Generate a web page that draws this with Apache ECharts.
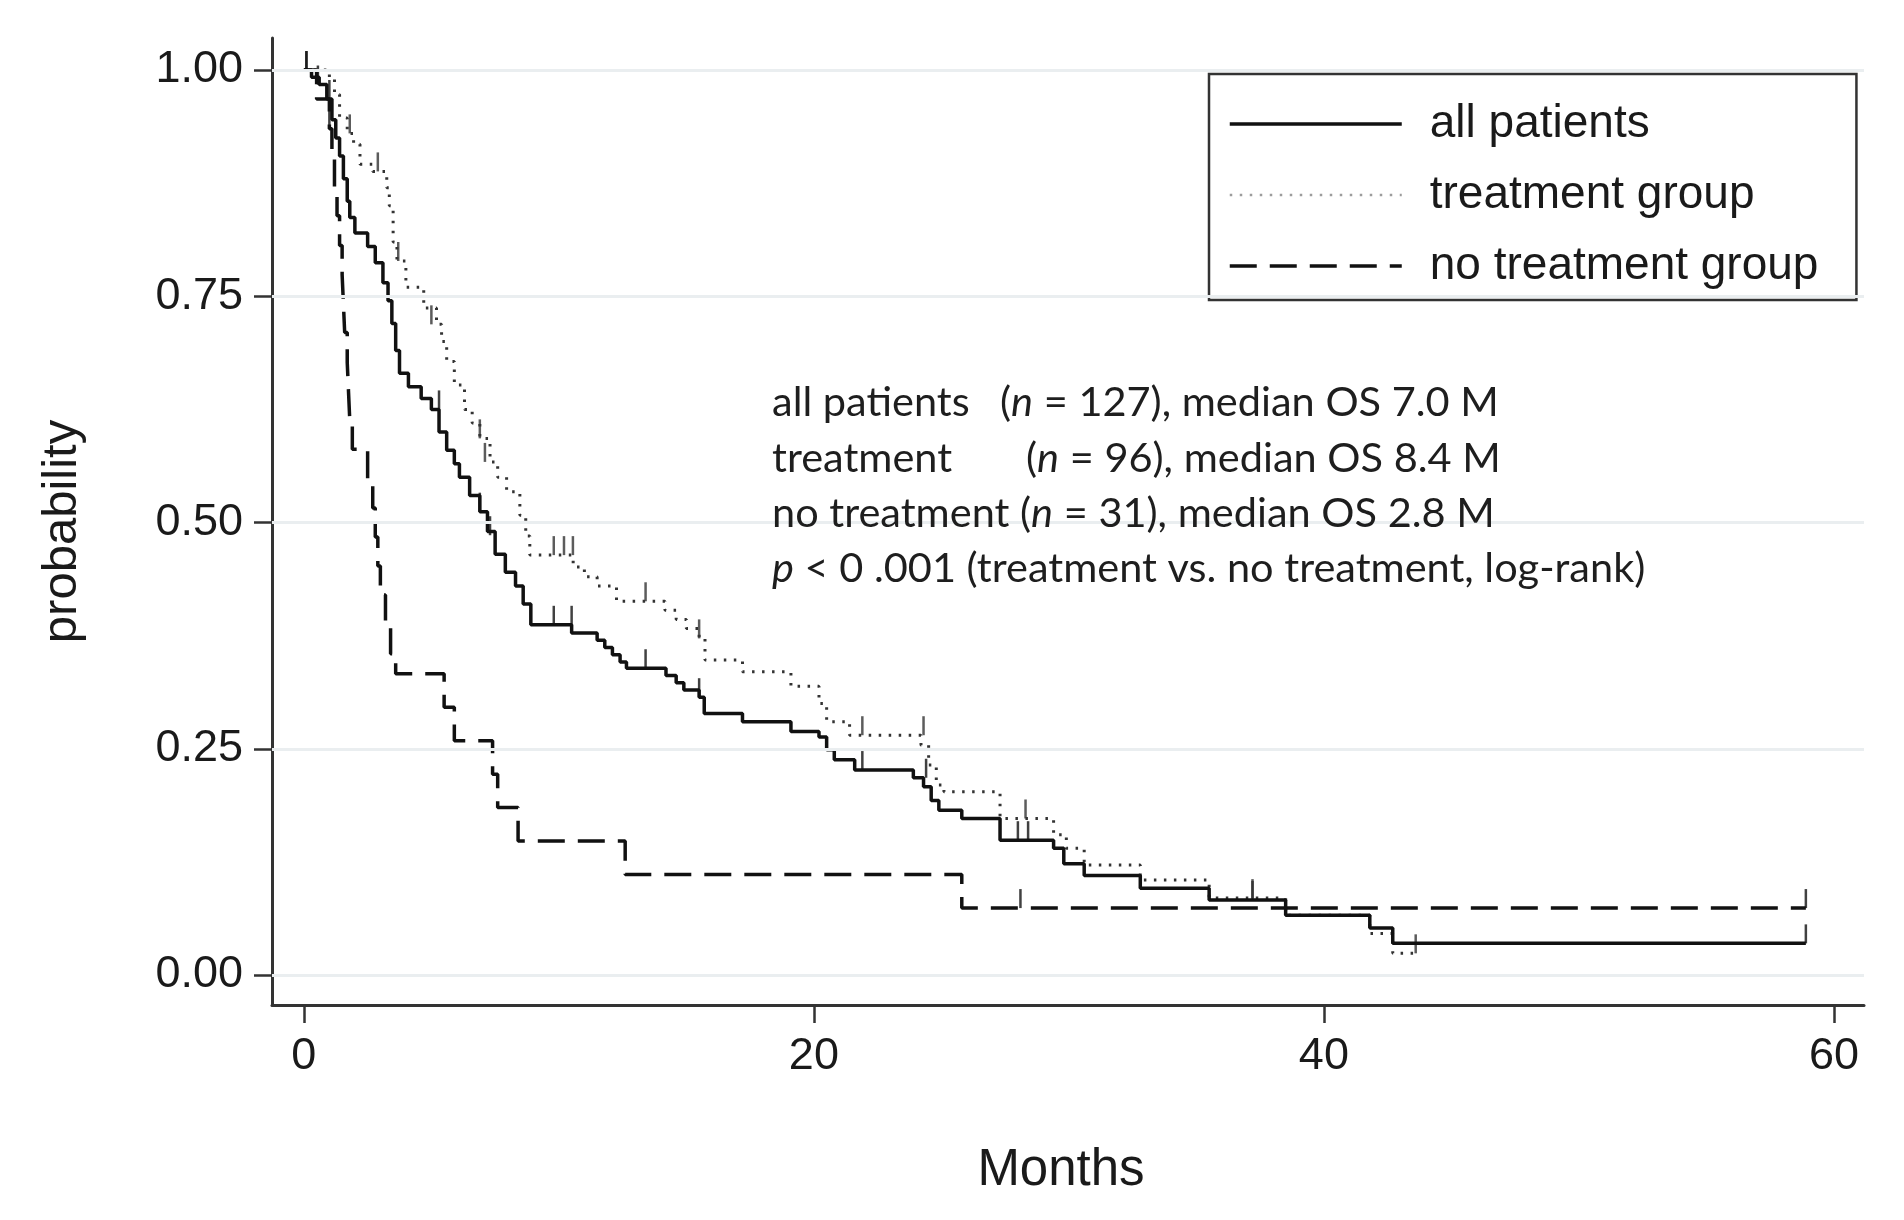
<!DOCTYPE html>
<html>
<head>
<meta charset="utf-8">
<script src="https://cdn.jsdelivr.net/npm/echarts@6/dist/echarts.min.js"></script>
<style>
html,body{margin:0;padding:0;background:#fff;}
#c{width:1904px;height:1220px;}
</style>
</head>
<body>
<div id="c"></div>
<script>
// ---------- data ----------
const xTicks = [0, 20, 40, 60];
const yTicks = [0, 0.25, 0.5, 0.75, 1];

const allTimes = [0,0.3,0.6,0.9,1.1,1.25,1.4,1.55,1.7,1.8,2.0,2.5,2.8,3.1,3.3,3.45,3.6,3.75,4.1,4.6,5.0,5.3,5.6,5.9,6.1,6.5,6.9,7.2,7.5,7.9,8.3,8.6,8.9,10.5,11.5,11.8,12.1,12.4,12.65,14.2,14.6,14.9,15.5,15.7,17.2,19.1,20.2,20.5,20.8,21.6,23.9,24.3,24.6,24.9,25.8,27.3,29.4,29.8,30.6,32.8,35.5,38.5,41.8,42.7,58.9];
const allSurv  = [1,0.992,0.984,0.968,0.945,0.925,0.905,0.88,0.855,0.837,0.82,0.805,0.787,0.765,0.745,0.72,0.69,0.665,0.65,0.637,0.625,0.6,0.58,0.565,0.55,0.53,0.512,0.49,0.465,0.445,0.43,0.41,0.387,0.378,0.37,0.362,0.354,0.346,0.339,0.331,0.323,0.315,0.307,0.289,0.28,0.269,0.263,0.249,0.238,0.2265,0.218,0.208,0.193,0.182,0.173,0.149,0.14,0.123,0.11,0.096,0.083,0.066,0.052,0.035,0.035];

const txTimes = [0,1.0,1.2,1.4,1.7,1.95,2.2,2.7,3.25,3.35,3.5,3.65,4.0,4.7,5.2,5.4,5.6,5.9,6.3,6.6,6.9,7.3,7.6,7.95,8.47,8.7,8.86,10.56,11.0,11.5,12.26,14.16,14.6,15.0,15.5,15.73,17.2,19.1,20.2,20.5,21.4,24.2,24.5,24.8,25.1,27.3,29.4,29.9,30.6,32.8,35.5,38.5,41.8,42.7,43.6];
const txSurv  = [1,0.99,0.973,0.947,0.93,0.918,0.896,0.888,0.87,0.85,0.81,0.789,0.76,0.737,0.719,0.7,0.678,0.652,0.625,0.61,0.593,0.567,0.55,0.534,0.508,0.485,0.464,0.451,0.44,0.43,0.413,0.403,0.393,0.383,0.372,0.348,0.335,0.319,0.3,0.28,0.265,0.254,0.232,0.21,0.2025,0.173,0.155,0.14,0.1215,0.105,0.085,0.066,0.046,0.024,0.024];

const noTxTimes = [0,0.5,1.0,1.1,1.2,1.3,1.4,1.5,1.55,1.6,1.7,1.75,1.8,1.9,2.5,2.7,2.8,2.9,3.0,3.2,3.4,3.6,5.5,5.9,7.4,7.6,8.4,12.6,25.8,58.9];
const noTxSurv  = [1,0.968,0.935,0.903,0.871,0.839,0.806,0.774,0.742,0.71,0.677,0.645,0.613,0.581,0.548,0.516,0.484,0.452,0.42,0.387,0.355,0.333,0.296,0.259,0.222,0.185,0.148,0.111,0.074,0.074];

// censoring marks
const allCensT = [0.1,0.55,1.0,5.3,6.9,7.3,9.8,10.5,13.4,15.5,21.9,24.4,28.0,28.4,37.2,58.9];
const allCensS = [1,0.984,0.968,0.625,0.512,0.486,0.387,0.387,0.339,0.307,0.2265,0.218,0.149,0.149,0.083,0.035];
const txCensT  = [1.8,2.9,3.7,5.0,6.9,7.1,9.8,10.2,10.55,13.4,15.5,21.9,24.3,28.3,37.2,43.6];
const txCensS  = [0.93,0.888,0.789,0.719,0.593,0.567,0.464,0.464,0.464,0.413,0.372,0.265,0.265,0.173,0.085,0.024];
const noTxCensT = [0.1,1.0,28.1,58.9];
const noTxCensS = [1,0.935,0.074,0.074];

const seriesNames = ['all patients', 'treatment group', 'no treatment group'];
const noteLines = [
  ['all patients', '({i|n} = 127), median OS 7.0 M'],
  ['treatment', '({i|n} = 96), median OS 8.4 M'],
  ['no treatment ({i|n} = 31), median OS 2.8 M'],
  ['{i|p} < 0 .001 (treatment vs. no treatment, log-rank)']
];

// ---------- chart ----------
const zip = (a, b) => a.map((v, i) => [v, b[i]]);
const tickFont = 'Liberation Sans, Arial, sans-serif';
const noteFont = 'Lato, sans-serif';
const noteSize = 41.5;

function censorSeries(t, s, color) {
  return {
    type: 'scatter', data: zip(t, s), symbol: 'rect', symbolSize: [2.5, 19],
    symbolOffset: [0, '-50%'], itemStyle: { color: color }, silent: true, z: 3,
    emphasis: { disabled: true }
  };
}

const chart = echarts.init(document.getElementById('c'));
const noteRich = { i: { fontStyle: 'italic', fontFamily: noteFont, fontSize: noteSize, fill: '#1e1e1e' } };
const noteY = [403, 459, 514, 569];
const graphics = [];
noteLines.forEach((ln, k) => {
  const base = { font: noteSize + 'px ' + noteFont, fill: '#1e1e1e', rich: noteRich, verticalAlign: 'middle' };
  graphics.push({ type: 'text', x: 772, y: noteY[k], z: 100, style: Object.assign({ text: ln[0] }, base) });
  if (ln.length > 1) {
    graphics.push({ type: 'text', x: k === 0 ? 1000 : 1026, y: noteY[k], z: 100, style: Object.assign({ text: ln[1] }, base) });
  }
});

chart.setOption({
  animation: false,
  backgroundColor: '#fff',
  grid: { left: 272, right: 40, top: 38, bottom: 215, containLabel: false },
  legend: {
    data: [
      { name: seriesNames[0] },
      { name: seriesNames[1], lineStyle: { color: '#9c9c9c', width: 2.5 } },
      { name: seriesNames[2] }
    ],
    orient: 'vertical', left: 1209, top: 74,
    itemWidth: 172, itemHeight: 16, itemGap: 25,
    padding: [27, 38, 11, 19],
    borderColor: '#333', borderWidth: 2.5, backgroundColor: '#fff',
    itemStyle: { opacity: 0 },
    lineStyle: { width: 3.5 },
    textStyle: { fontFamily: tickFont, fontSize: 46, color: '#1a1a1a', padding: [0, 0, 0, 23], lineHeight: 46 },
    selectedMode: false
  },
  xAxis: {
    type: 'value', min: -1.25, max: 61.18,
    name: 'Months', nameLocation: 'middle', nameGap: 140,
    nameTextStyle: { fontFamily: tickFont, fontSize: 51, color: '#1a1a1a', padding: [0, 14, 0, 0] },
    axisLine: { onZero: false, lineStyle: { color: '#333', width: 3 } },
    axisTick: { show: true, length: 18, lineStyle: { color: '#333', width: 2.5 }, customValues: xTicks },
    axisLabel: { customValues: xTicks, fontFamily: tickFont, fontSize: 45, color: '#1a1a1a', margin: 29 },
    splitLine: { show: false }
  },
  yAxis: {
    type: 'value', min: -0.0331, max: 1.0354,
    name: 'probability', nameLocation: 'middle', nameGap: 185,
    nameTextStyle: { fontFamily: tickFont, fontSize: 49, color: '#1a1a1a', padding: [0, 20, 0, 0] },
    axisLine: { onZero: false, lineStyle: { color: '#333', width: 3 } },
    axisTick: { show: true, length: 18, lineStyle: { color: '#333', width: 2.5 }, customValues: yTicks },
    axisLabel: { customValues: yTicks, formatter: v => v.toFixed(2), fontFamily: tickFont, fontSize: 45, color: '#1a1a1a', margin: 29 },
    splitLine: { show: false }
  },
  graphic: graphics,
  series: [
    {
      type: 'line', data: [[0, 0]], symbol: 'none', lineStyle: { opacity: 0 }, silent: true, z: 1,
      markLine: {
        silent: true, symbol: 'none', label: { show: false },
        lineStyle: { color: '#eaeef0', width: 3, type: 'solid' },
        data: yTicks.map(v => ({ yAxis: v }))
      }
    },
    {
      name: seriesNames[0], type: 'line', step: 'end', data: zip(allTimes, allSurv),
      symbol: 'none', lineStyle: { color: '#111', width: 3.5, type: 'solid' }, itemStyle: { color: '#111' }, z: 4
    },
    {
      name: seriesNames[1], type: 'line', step: 'end', data: zip(txTimes, txSurv),
      symbol: 'none', lineStyle: { color: '#333', width: 3, type: [2.5, 7.5] }, itemStyle: { color: '#9a9a9a' }, z: 3
    },
    {
      name: seriesNames[2], type: 'line', step: 'end', data: zip(noTxTimes, noTxSurv),
      symbol: 'none', lineStyle: { color: '#111', width: 3.5, type: [27, 13] }, itemStyle: { color: '#111' }, z: 3
    },
    censorSeries(allCensT, allCensS, '#111'),
    censorSeries(txCensT, txCensS, '#333'),
    censorSeries(noTxCensT, noTxCensS, '#111')
  ]
});
</script>
</body>
</html>
